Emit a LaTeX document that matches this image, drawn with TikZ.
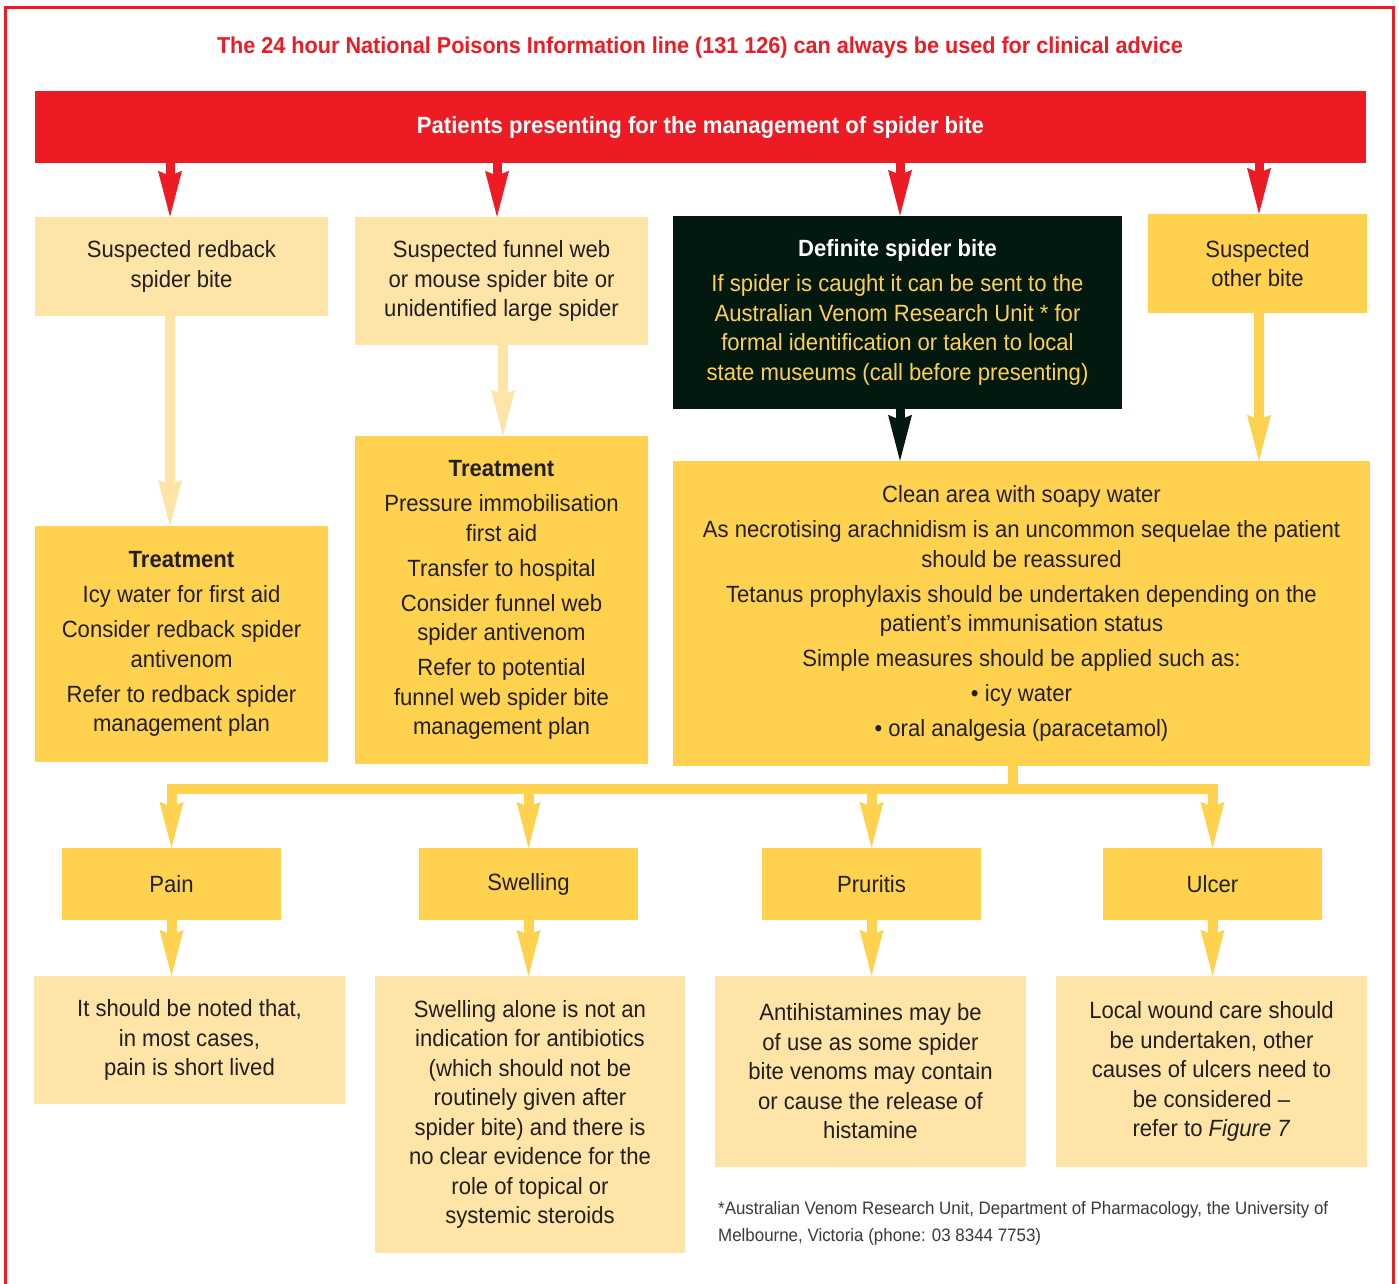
\documentclass[tikz,border=0pt]{standalone}
\usepackage{fontspec}
\setmainfont{Liberation Sans}[FakeStretch=0.94]
\usetikzlibrary{arrows.meta}
\definecolor{redc}{HTML}{ED1C24}
\definecolor{lighty}{HTML}{FEE4A6}
\definecolor{midy}{HTML}{FED24E}
\definecolor{darkg}{HTML}{03180E}
\definecolor{txt}{HTML}{231F20}
\definecolor{foot}{HTML}{3A3A3A}
\begin{document}
\begin{tikzpicture}[x=1pt,y=-1pt,
  box/.style={rectangle, inner sep=0pt, align=center, text=txt, font=\fontsize{23.5}{29.5}\selectfont},
  lbox/.style={box, fill=lighty},
  mbox/.style={box, fill=midy},
  tipk/.style={-{Stealth[length=46pt,width=24pt,inset=5pt,line width=0pt]}},
  rarr/.style={draw=redc, line width=9pt, tipk, line join=miter},
  darr/.style={draw=darkg, line width=9pt, tipk},
  larr/.style={draw=lighty, line width=10pt, tipk},
  yarr/.style={draw=midy, line width=10pt, tipk, line join=miter},
  yline/.style={draw=midy, line width=10pt}]
\useasboundingbox (0,0) rectangle (1399,1283);
\fill[white] (0,0) rectangle (1399,1283);
\draw[redc, line width=3pt] (5,1300) -- (5,7) -- (1393,7) -- (1393,1300);

\node[text=redc, font=\fontsize{23}{28}\selectfont\bfseries] (title) at (700,48)
  {The 24 hour National Poisons Information line (131 126) can always be used for clinical advice};

\node[box, fill=redc, text=white, minimum width=1331pt, minimum height=72pt, font=\fontsize{23.5}{28}\selectfont\bfseries] (bar) at (700.5,127)
  {Patients presenting for the management of spider bite};

% second row
\node[lbox, minimum width=293pt, minimum height=99pt] (A) at (181.5,266.5) {Suspected redback\\spider bite};
\node[lbox, minimum width=293pt, minimum height=128pt] (B) at (501.5,281) {Suspected funnel web\\or mouse spider bite or\\unidentified large spider};
\node[box, fill=darkg, text=midy, minimum width=449pt, minimum height=193pt] (C) at (897.5,312.5)
  {{\color{white}\bfseries Definite spider bite}\\[5.5pt]If spider is caught it can be sent to the\\Australian Venom Research Unit * for\\formal identification or taken to local\\state museums (call before presenting)};
\node[mbox, minimum width=219pt, minimum height=99pt] (D) at (1257.5,263.5) {Suspected\\other bite};

% third row
\node[mbox, minimum width=293pt, minimum height=236pt] (E) at (181.5,644)
  {\textbf{Treatment}\\[5.5pt]Icy water for first aid\\[5.5pt]Consider redback spider\\antivenom\\[5.5pt]Refer to redback spider\\management plan};
\node[mbox, minimum width=293pt, minimum height=328pt] (F) at (501.5,600)
  {\textbf{Treatment}\\[5.5pt]Pressure immobilisation\\first aid\\[5.5pt]Transfer to hospital\\[5.5pt]Consider funnel web\\spider antivenom\\[5.5pt]Refer to potential\\funnel web spider bite\\management plan};
\node[mbox, minimum width=697pt, minimum height=305pt] (G) at (1021.5,613.5)
  {Clean area with soapy water\\[5.5pt]As necrotising arachnidism is an uncommon sequelae the patient\\should be reassured\\[5.5pt]Tetanus prophylaxis should be undertaken depending on the\\patient’s immunisation status\\[5.5pt]Simple measures should be applied such as:\\[5.5pt]• icy water\\[5.5pt]• oral analgesia (paracetamol)};

% symptom row
\node[mbox, minimum width=219pt, minimum height=72pt] (P) at (171.5,884) {Pain};
\node[mbox, minimum width=219pt, minimum height=72pt] (S) at (528.5,884) {Swelling};
\node[mbox, minimum width=219pt, minimum height=72pt] (R) at (871.5,884) {Pruritis};
\node[mbox, minimum width=219pt, minimum height=72pt] (U) at (1212.5,884) {Ulcer};

% notes row
\node[lbox, minimum width=311pt, minimum height=128pt] (PN) at (189.5,1040) {It should be noted that,\\in most cases,\\pain is short lived};
\node[lbox, minimum width=310pt, minimum height=277pt] (SN) at (530,1114.5) {Swelling alone is not an\\indication for antibiotics\\(which should not be\\routinely given after\\spider bite) and there is\\no clear evidence for the\\role of topical or\\systemic steroids};
\node[lbox, minimum width=311pt, minimum height=191pt] (RN) at (870.5,1071.5) {Antihistamines may be\\of use as some spider\\bite venoms may contain\\or cause the release of\\histamine};
\node[lbox, minimum width=311pt, minimum height=191pt] (UN) at (1211.5,1071.5) {Local wound care should\\be undertaken, other\\causes of ulcers need to\\be considered –\\refer to \textit{Figure 7}};

\node[anchor=west, align=left, text=foot, inner sep=0pt, font=\fontsize{18}{27}\selectfont] (fn) at (718,1223.5)
  {*Australian Venom Research Unit, Department of Pharmacology, the University of\\Melbourne, Victoria (phone: 03 8344 7753)};

% connectors
\coordinate (ta) at (170,0);
\coordinate (tb) at (497,0);
\coordinate (tc) at (900,0);
\coordinate (td) at (1259,0);
\coordinate (bf) at (503,0);
\draw[rarr] (bar.south -| ta) -- (A.north -| ta);
\draw[rarr] (bar.south -| tb) -- (B.north -| tb);
\draw[rarr] (bar.south -| tc) -- (C.north -| tc);
\draw[rarr] (bar.south -| td) -- (D.north -| td);

\draw[larr] (A.south -| ta) -- (E.north -| ta);
\draw[larr] (B.south -| bf) -- (F.north -| bf);
\draw[darr] (C.south -| tc) -- (G.north -| tc);
\draw[yarr] (D.south -| td) -- (G.north -| td);

\coordinate (hub) at (1013,789);
\draw[yline] (G.south -| hub) -- (hub);
\draw[yarr] (hub) -| (P.north);
\draw[yarr] (hub) -| (S.north);
\draw[yarr] (hub) -| (R.north);
\draw[yarr] (hub) -| (U.north);

\draw[yarr] (P.south) -- (P.south |- PN.north);
\draw[yarr] (S.south) -- (S.south |- SN.north);
\draw[yarr] (R.south) -- (R.south |- RN.north);
\draw[yarr] (U.south) -- (U.south |- UN.north);
\end{tikzpicture}
\end{document}
